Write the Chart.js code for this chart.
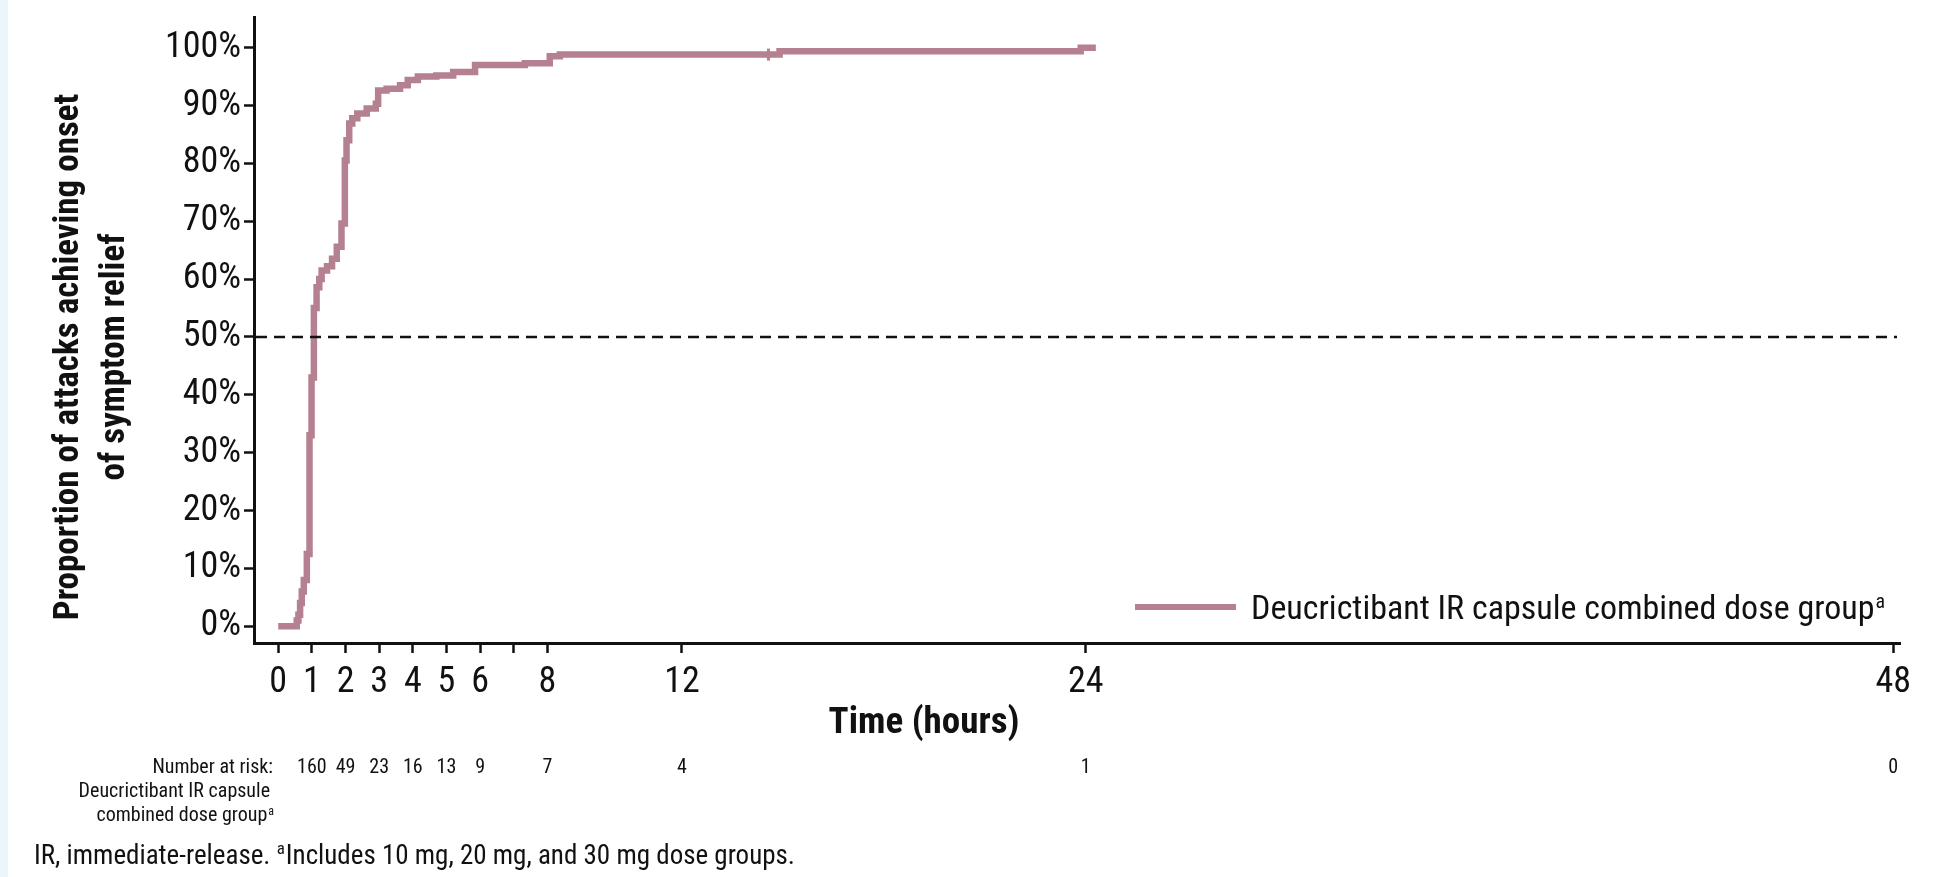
<!DOCTYPE html>
<html>
<head>
<meta charset="utf-8">
<script src="https://cdn.jsdelivr.net/npm/chart.js@4.4.1/dist/chart.umd.min.js"></script>
<style>
  html, body { margin: 0; padding: 0; background: #ffffff; }
  #wrap { width: 1951px; height: 877px; position: relative; }
  canvas { display: block; }
</style>
</head>
<body>
<div id="wrap"><canvas id="c" width="1951" height="877"></canvas></div>
<script>
// ---------------- data ----------------
const TIME_HOURS = [0, 0.55, 0.6, 0.65, 0.7, 0.76, 0.85, 0.93, 0.99, 1.06, 1.14, 1.22, 1.29, 1.45, 1.6, 1.74, 1.88, 1.98, 2.03, 2.11, 2.2, 2.35, 2.63, 2.9, 2.97, 3.22, 3.62, 3.85, 4.15, 4.7, 5.2, 5.85, 7.33, 8.07, 8.37, 14.9, 23.85, 24.3];
const PROPORTION_PCT = [0, 1, 2, 4, 6, 8, 12.5, 33, 43, 55, 58.6, 60, 61.5, 62.2, 63.5, 65.6, 69.6, 80.5, 84, 86.9, 87.8, 88.6, 89.5, 90.3, 92.6, 92.9, 93.5, 94.4, 95, 95.2, 95.8, 97, 97.3, 98.5, 98.8, 99.4, 100, 100];
const CENSOR_TIME = [14.57];
const CENSOR_PCT = [98.8];
const Y_TICKS = [0, 10, 20, 30, 40, 50, 60, 70, 80, 90, 100];
const X_TICKS = [0, 1, 2, 3, 4, 5, 6, 7, 8, 12, 24, 48];
const X_TICK_LABELS = ['0', '1', '2', '3', '4', '5', '6', '', '8', '12', '24', '48'];
const RISK_TIMES = [1, 2, 3, 4, 5, 6, 8, 12, 24, 48];
const RISK_COUNTS = [160, 49, 23, 16, 13, 9, 7, 4, 1, 0];
const REF_LEVEL = 50;
const SERIES_NAME = 'Deucrictibant IR capsule combined dose group';
const X_TITLE = 'Time (hours)';
const Y_TITLE = ['Proportion of attacks achieving onset', 'of symptom relief'];
const RISK_HEADER = ['Number at risk:', 'Deucrictibant IR capsule', 'combined dose group'];
const FOOTNOTE_A = 'IR, immediate-release. ';
const FOOTNOTE_B = 'Includes 10 mg, 20 mg, and 30 mg dose groups.';

// ---------------- style ----------------
const FONT = "'Liberation Sans Narrow', 'Roboto Condensed', 'Arial Narrow', Roboto, sans-serif";
const CURVE_COLOR = '#b5808f';
const INK = '#111111';

function supText(ctx, main, sup, x, y, size, align) {
  ctx.font = size + 'px ' + FONT;
  const mw = ctx.measureText(main).width;
  ctx.font = Math.round(size * 0.6) + 'px ' + FONT;
  const sw = ctx.measureText(sup).width;
  let sx = x;
  if (align === 'right') sx = x - mw - sw;
  ctx.textAlign = 'left';
  ctx.textBaseline = 'middle';
  ctx.font = size + 'px ' + FONT;
  ctx.fillText(main, sx, y);
  ctx.font = Math.round(size * 0.6) + 'px ' + FONT;
  ctx.fillText(sup, sx + mw + 1, y - size * 0.22);
}

const decor = {
  id: 'decor',
  beforeDraw(chart) {
    const ctx = chart.ctx;
    ctx.save();
    ctx.fillStyle = '#ffffff';
    ctx.fillRect(0, 0, chart.width, chart.height);
    ctx.fillStyle = '#eaf5fc';
    ctx.fillRect(0, 0, 8, chart.height);
    ctx.restore();
  },
  afterDraw(chart) {
    const ctx = chart.ctx;
    const xs = chart.scales.x, ys = chart.scales.y, ca = chart.chartArea;
    ctx.save();
    // reference line
    ctx.setLineDash([11, 7]);
    ctx.lineWidth = 2.5;
    ctx.strokeStyle = INK;
    const ry = ys.getPixelForValue(REF_LEVEL);
    ctx.beginPath();
    ctx.moveTo(ca.left + 2, ry);
    ctx.lineTo(ca.right - 3, ry);
    ctx.stroke();
    ctx.setLineDash([]);

    ctx.fillStyle = INK;
    // legend
    ctx.strokeStyle = CURVE_COLOR;
    ctx.lineWidth = 6;
    ctx.beginPath();
    ctx.moveTo(1135, 607);
    ctx.lineTo(1236, 607);
    ctx.stroke();
    supText(ctx, SERIES_NAME, 'a', 1251, 610, 34, 'left');

    // axis titles
    ctx.font = 'bold 37px ' + FONT;
    ctx.textAlign = 'center';
    ctx.textBaseline = 'middle';
    ctx.fillText(X_TITLE, 924, 724);

    ctx.save();
    ctx.translate(0, 357);
    ctx.rotate(-Math.PI / 2);
    ctx.font = 'bold 35px ' + FONT;
    ctx.fillText(Y_TITLE[0], 0, 69);
    ctx.fillText(Y_TITLE[1], 0, 115);
    ctx.restore();

    // number at risk
    ctx.font = '20px ' + FONT;
    ctx.textAlign = 'right';
    ctx.textBaseline = 'middle';
    ctx.fillText(RISK_HEADER[0], 273, 768);
    ctx.fillText(RISK_HEADER[1], 270, 792);
    supText(ctx, RISK_HEADER[2], 'a', 273, 816, 20, 'right');
    ctx.font = '20px ' + FONT;
    ctx.textAlign = 'center';
    RISK_TIMES.forEach((t, i) => {
      ctx.fillText(String(RISK_COUNTS[i]), xs.getPixelForValue(t), 768);
    });

    // footnote
    ctx.font = '27px ' + FONT;
    const aw = ctx.measureText(FOOTNOTE_A).width;
    ctx.textAlign = 'left';
    ctx.fillText(FOOTNOTE_A, 34, 857);
    ctx.font = '17px ' + FONT;
    ctx.fillText('a', 34 + aw, 850);
    const sw = ctx.measureText('a').width;
    ctx.font = '27px ' + FONT;
    ctx.fillText(FOOTNOTE_B, 34 + aw + sw + 1, 857);
    ctx.restore();
  }
};

const curveData = TIME_HOURS.map((t, i) => ({ x: t, y: PROPORTION_PCT[i] }));
const censorData = CENSOR_TIME.map((t, i) => ({ x: t, y: CENSOR_PCT[i] }));

new Chart(document.getElementById('c'), {
  type: 'line',
  data: {
    datasets: [
      {
        label: SERIES_NAME,
        data: curveData,
        stepped: true,
        borderColor: CURVE_COLOR,
        backgroundColor: CURVE_COLOR,
        borderWidth: 6.5,
        pointRadius: 0,
        fill: false,
        borderCapStyle: 'butt',
        borderJoinStyle: 'miter'
      },
      {
        label: 'censored',
        data: censorData,
        showLine: false,
        pointStyle: 'line',
        rotation: 90,
        pointRadius: 6,
        borderWidth: 3,
        borderColor: CURVE_COLOR,
        backgroundColor: CURVE_COLOR
      }
    ]
  },
  options: {
    responsive: false,
    animation: false,
    events: [],
    layout: { padding: { left: 0, top: 17, right: 51, bottom: 0 } },
    plugins: { legend: { display: false }, tooltip: { enabled: false } },
    scales: {
      x: {
        type: 'linear',
        min: -0.72,
        max: 48.2,
        afterBuildTicks(scale) { scale.ticks = X_TICKS.map(v => ({ value: v })); },
        afterFit(scale) { scale.height = 234; scale.paddingLeft = 0; scale.paddingRight = 0; },
        ticks: {
          autoSkip: false,
          maxRotation: 0,
          minRotation: 0,
          padding: 8,
          color: INK,
          font: { family: FONT, size: 36 },
          callback(v) { const i = X_TICKS.indexOf(v); return i >= 0 ? X_TICK_LABELS[i] : ''; }
        },
        grid: { display: true, drawOnChartArea: false, drawTicks: true, tickLength: 10, tickWidth: 2.5, tickColor: INK },
        border: { display: true, color: INK, width: 3 }
      },
      y: {
        type: 'linear',
        min: -2.9,
        max: 105.3,
        afterBuildTicks(scale) { scale.ticks = Y_TICKS.map(v => ({ value: v })); },
        afterFit(scale) { scale.width = 254; scale.paddingTop = 0; scale.paddingBottom = 0; },
        ticks: {
          autoSkip: false,
          padding: 3,
          color: INK,
          font: { family: FONT, size: 36 },
          callback(v) { return v + '%'; }
        },
        grid: { display: true, drawOnChartArea: false, drawTicks: true, tickLength: 10, tickWidth: 2.5, tickColor: INK },
        border: { display: true, color: INK, width: 3 }
      }
    }
  },
  plugins: [decor]
});
</script>
</body>
</html>
